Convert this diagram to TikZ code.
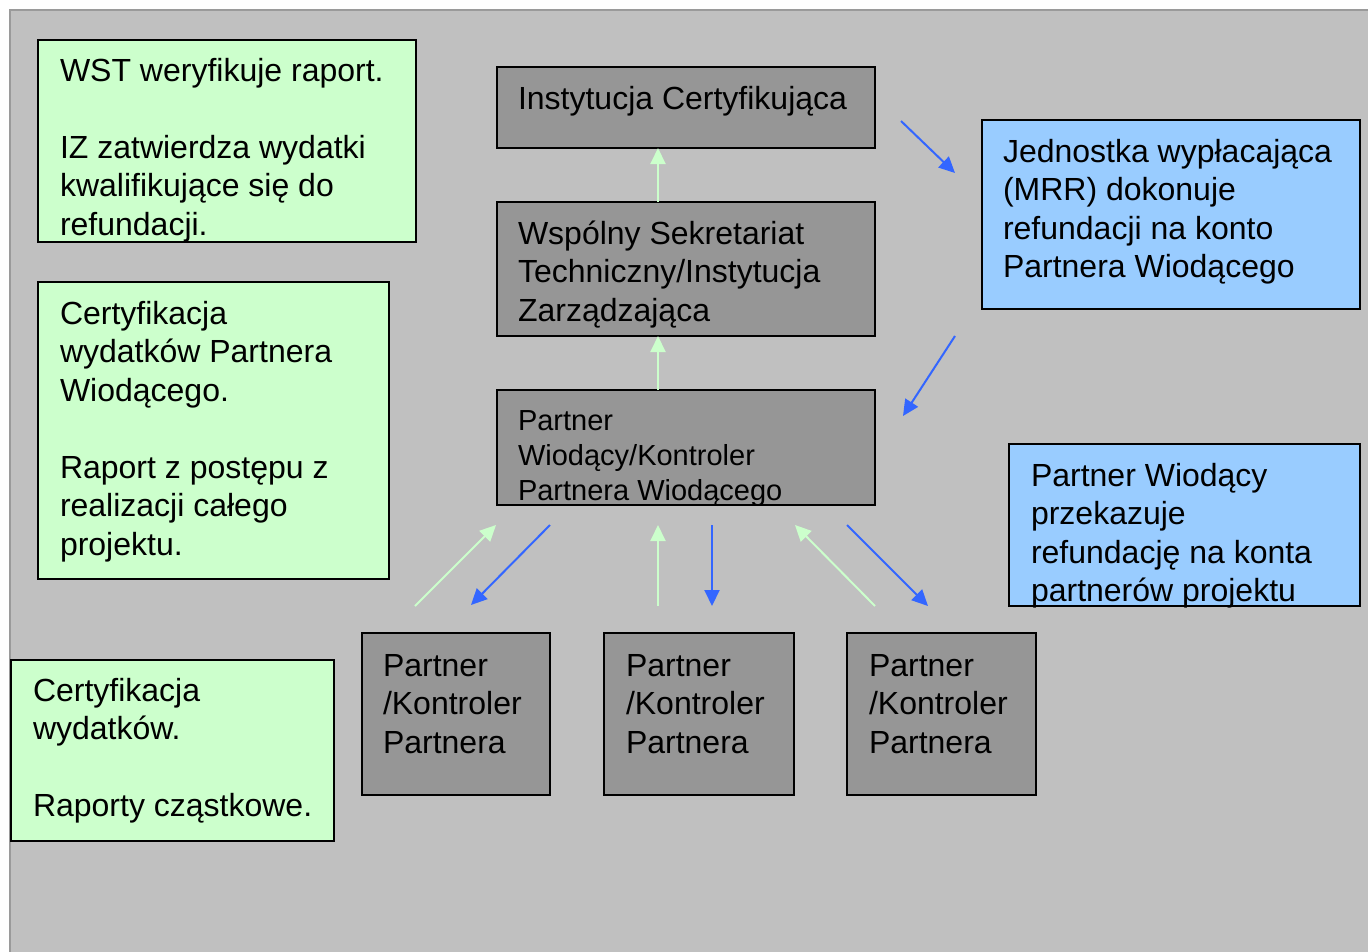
\documentclass[tikz,border=0pt]{standalone}
\usepackage{fontspec}
\setmainfont{Liberation Sans}
\usetikzlibrary{arrows.meta,calc}
\definecolor{bgc}{HTML}{C0C0C0}
\definecolor{bgline}{HTML}{9A9A9A}
\definecolor{boxgreen}{HTML}{CCFFCC}
\definecolor{boxblue}{HTML}{99CCFF}
\definecolor{boxgray}{HTML}{969696}
\definecolor{arrblue}{HTML}{3366FF}
\definecolor{arrgreen}{HTML}{CCFFCC}
\newcommand\firststrut{\rule{0pt}{30pt}}
\newcommand\smallstrut{\rule{0pt}{27pt}}
\tikzset{
  box/.style={draw=black, line width=2pt, inner sep=0pt, outer sep=0pt, anchor=north west},
  gbox/.style={box, fill=boxgreen},
  bbox/.style={box, fill=boxblue},
  dbox/.style={box, fill=boxgray},
  txt/.style={anchor=north west, inner sep=0pt, outer sep=0pt, align=left, text=black,
    font=\fontsize{32}{38.5}\selectfont},
  smalltxt/.style={txt, font=\fontsize{29}{35}\selectfont},
  garrow/.style={draw=arrgreen, line width=2pt, -{Triangle[length=16pt,width=15pt]}},
  barrow/.style={draw=arrblue, line width=2pt, -{Triangle[length=16pt,width=15pt]}}
}
\begin{document}
\begin{tikzpicture}[x=1pt,y=-1pt]
\useasboundingbox (0,0) rectangle (1368,951);
\fill[white] (0,0) rectangle (1368,951);
\fill[bgc] (10,10) rectangle (1370,953);
\draw[bgline, line width=1.5pt] (10,953) -- (10,10) -- (1370,10);

% green boxes
\node[gbox, minimum width=378pt, minimum height=202pt] (g1) at (38,40) {};
\node[txt] (g1t) at (60,51) {\firststrut WST weryfikuje raport.\\[38.5pt]IZ zatwierdza wydatki\\kwalifikujące się do\\refundacji.};

\node[gbox, minimum width=351pt, minimum height=297pt] (g2) at (38,282) {};
\node[txt] (g2t) at (60,294) {\firststrut Certyfikacja\\wydatków Partnera\\Wiodącego.\\[38.5pt]Raport z postępu z\\realizacji całego\\projektu.};

\node[gbox, minimum width=323pt, minimum height=181pt] (g3) at (11,660) {};
\node[txt] (g3t) at (33,671) {\firststrut Certyfikacja\\wydatków.\\[38.5pt]Raporty cząstkowe.};

% central gray boxes
\node[dbox, minimum width=378pt, minimum height=81pt] (ic) at (497,67) {};
\node[txt] (ict) at (518,79) {\firststrut Instytucja Certyfikująca};

\node[dbox, minimum width=378pt, minimum height=134pt] (wst) at (497,202) {};
\node[txt] (wstt) at (518,214) {\firststrut Wspólny Sekretariat\\Techniczny/Instytucja\\Zarządzająca};

\node[dbox, minimum width=378pt, minimum height=115pt] (pw) at (497,390) {};
\node[smalltxt] (pwt) at (518,403) {\smallstrut Partner\\Wiodący/Kontroler\\Partnera Wiodącego};

% blue boxes
\node[bbox, minimum width=378pt, minimum height=189pt] (b1) at (982,120) {};
\node[txt] (b1t) at (1003,132) {\firststrut Jednostka wypłacająca\\(MRR) dokonuje\\refundacji na konto\\Partnera Wiodącego};

\node[bbox, minimum width=351pt, minimum height=162pt] (b2) at (1009,444) {};
\node[txt] (b2t) at (1031,456) {\firststrut Partner Wiodący\\przekazuje\\refundację na konta\\partnerów projektu};

% partner boxes
\node[dbox, minimum width=188pt, minimum height=162pt] (p1) at (362,633) {};
\node[txt] (p1t) at (383,646) {\firststrut Partner\\/Kontroler\\Partnera};
\node[dbox, minimum width=190pt, minimum height=162pt] (p2) at (604,633) {};
\node[txt] (p2t) at (626,646) {\firststrut Partner\\/Kontroler\\Partnera};
\node[dbox, minimum width=189pt, minimum height=162pt] (p3) at (847,633) {};
\node[txt] (p3t) at (869,646) {\firststrut Partner\\/Kontroler\\Partnera};

% vertical arrows in the column
\draw[garrow] ($(wst.north west)+(161,0)$) -- ($(ic.south west)+(161,0)$);
\draw[garrow] ($(pw.north west)+(161,0)$) -- ($(wst.south west)+(161,0)$);

% payment arrows on the right
\coordinate (r1s) at (901,121);
\coordinate (r1e) at (955,173);
\coordinate (r2s) at (955,336);
\coordinate (r2e) at (903,416);
\draw[barrow] (r1s) -- (r1e);
\draw[barrow] (r2s) -- (r2e);

% arrows between PW and partners
\coordinate (a1s) at (415,606);
\coordinate (a1e) at (496,525);
\coordinate (a2s) at (550,525);
\coordinate (a2e) at (471,605);
\coordinate (a3s) at (658,606);
\coordinate (a3e) at (658,525);
\coordinate (a4s) at (712,525);
\coordinate (a4e) at (712,606);
\coordinate (a5s) at (875,606);
\coordinate (a5e) at (795,525);
\coordinate (a6s) at (847,525);
\coordinate (a6e) at (928,606);
\draw[garrow] (a1s) -- (a1e);
\draw[barrow] (a2s) -- (a2e);
\draw[garrow] (a3s) -- (a3e);
\draw[barrow] (a4s) -- (a4e);
\draw[garrow] (a5s) -- (a5e);
\draw[barrow] (a6s) -- (a6e);
\end{tikzpicture}
\end{document}
